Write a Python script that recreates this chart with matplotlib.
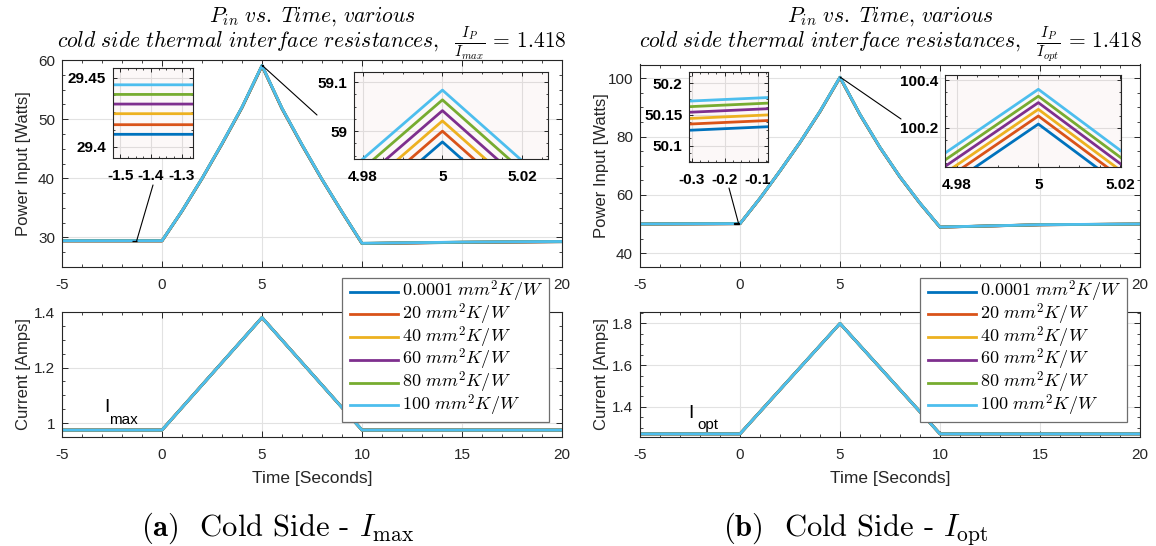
import matplotlib
matplotlib.use("Agg")
import matplotlib.pyplot as plt
from matplotlib.patches import Rectangle, ConnectionPatch
from matplotlib.ticker import AutoMinorLocator
from matplotlib.lines import Line2D

plt.rcParams['font.family'] = ['Liberation Sans', 'DejaVu Sans']
plt.rcParams['mathtext.fontset'] = 'cm'

# ---------------- data ----------------
resistances = ['0.0001', '20', '40', '60', '80', '100']
colors = ['#0072BD', '#D95319', '#EDB120', '#7E2F8E', '#77AC30', '#4DBEEE']

t_pow = [-5, 0, 1, 2, 3, 4, 5, 6, 7, 8, 9, 10, 15, 20]

# power input, I = Imax case (one list per resistance)
pow_max_0 = [29.409, 29.409, 34.44, 39.93, 45.78, 51.928, 58.978, 51.748, 45.60, 39.78, 34.28, 28.96, 29.16, 29.27]
pow_max_1 = [29.416, 29.416, 34.45, 39.94, 45.80, 51.950, 59.000, 51.770, 45.62, 39.79, 34.29, 28.97, 29.17, 29.28]
pow_max_2 = [29.424, 29.424, 34.46, 39.95, 45.82, 51.971, 59.021, 51.791, 45.64, 39.80, 34.30, 28.98, 29.18, 29.29]
pow_max_3 = [29.431, 29.431, 34.47, 39.96, 45.84, 51.992, 59.042, 51.812, 45.66, 39.81, 34.31, 28.99, 29.19, 29.30]
pow_max_4 = [29.438, 29.438, 34.48, 39.97, 45.86, 52.014, 59.064, 51.834, 45.68, 39.82, 34.32, 29.00, 29.20, 29.31]
pow_max_5 = [29.445, 29.445, 34.49, 39.98, 45.88, 52.034, 59.084, 51.854, 45.70, 39.83, 34.33, 29.01, 29.21, 29.32]

# power input, I = Iopt case
pow_opt_0 = [50.012, 50.132, 58.80, 68.20, 77.95, 88.515, 100.215, 87.465, 76.20, 66.10, 57.10, 48.95, 49.75, 50.00]
pow_opt_1 = [50.022, 50.142, 58.81, 68.21, 77.97, 88.549, 100.249, 87.499, 76.22, 66.12, 57.12, 48.96, 49.76, 50.01]
pow_opt_2 = [50.031, 50.151, 58.82, 68.22, 77.99, 88.577, 100.277, 87.527, 76.24, 66.14, 57.14, 48.97, 49.77, 50.02]
pow_opt_3 = [50.041, 50.161, 58.83, 68.23, 78.01, 88.605, 100.305, 87.555, 76.26, 66.16, 57.16, 48.98, 49.78, 50.03]
pow_opt_4 = [50.050, 50.170, 58.84, 68.24, 78.03, 88.632, 100.332, 87.582, 76.28, 66.18, 57.18, 48.99, 49.79, 50.04]
pow_opt_5 = [50.059, 50.179, 58.85, 68.25, 78.05, 88.661, 100.361, 87.611, 76.30, 66.20, 57.20, 49.00, 49.80, 50.05]

t_cur = [-5, 0, 5, 10, 20]
cur_max = [0.975, 0.975, 1.38, 0.975, 0.975]
cur_opt = [1.27, 1.27, 1.80, 1.27, 1.27]

W, H = 1156, 546
fig = plt.figure(figsize=(W / 100, H / 100), dpi=100)


def box(l, t, r, b):
    return [l / W, 1 - b / H, (r - l) / W, (b - t) / H]


def fxy(x, y):
    return (x / W, 1 - y / H)


def style_main(ax):
    ax.tick_params(which='both', direction='in', top=True, right=True,
                   labelsize=11, colors='#262626', pad=5)
    ax.tick_params(axis='x', pad=8)
    ax.tick_params(which='major', length=4, width=0.7)
    ax.tick_params(which='minor', length=2, width=0.6)
    ax.xaxis.set_minor_locator(AutoMinorLocator(5))
    ax.yaxis.set_minor_locator(AutoMinorLocator(4))
    ax.grid(True, which='major', color='#e2e2e2', lw=0.8)
    ax.set_axisbelow(True)
    for s in ax.spines.values():
        s.set_color('#262626')
        s.set_linewidth(0.8)


def style_inset(ax, xt, xl, yt, yl):
    ax.set_facecolor('#fcf8f8')
    ax.set_xticks(xt, xl)
    ax.set_yticks(yt, yl)
    ax.tick_params(which='both', direction='in', top=True, right=True,
                   labelsize=11, colors='#262626')
    ax.tick_params(axis='x', pad=8)
    ax.tick_params(axis='y', pad=5)
    ax.tick_params(which='major', length=3, width=0.7)
    ax.tick_params(which='minor', length=1.5, width=0.6)
    ax.xaxis.set_minor_locator(AutoMinorLocator(4))
    ax.yaxis.set_minor_locator(AutoMinorLocator(4))
    for lab in ax.get_xticklabels() + ax.get_yticklabels():
        lab.set_fontweight('bold')
        lab.set_color('black')
    ax.grid(True, which='major', color='#e0dcdc', lw=0.8)
    ax.set_axisbelow(True)
    for s in ax.spines.values():
        s.set_color('#262626')
        s.set_linewidth(0.8)


def panel(dx, top_y, pows, ylim_p, yt_p, ytl_p, cur, ylim_c, yt_c, ytl_c,
          sub, ins1, ins2, lbl_i, caption):
    # power axes
    axp = fig.add_axes(box(dx + 62, top_y, dx + 562, 267))
    for p, c in zip(pows, colors):
        axp.plot(t_pow, p, color=c, lw=2)
    axp.set_xlim(-5, 20)
    axp.set_ylim(*ylim_p)
    axp.set_xticks([-5, 0, 5, 10, 15, 20], ['-5', '0', '5', '10', '15', '20'])
    axp.set_yticks(yt_p, ytl_p)
    style_main(axp)
    axp.set_ylabel('Power Input [Watts]', fontsize=12, color='#262626')
    axp.yaxis.set_label_coords(-0.062, 0.5)

    # current axes
    axc = fig.add_axes(box(dx + 62, 312, dx + 562, 437))
    for c in colors:
        axc.plot(t_cur, cur, color=c, lw=2)
    axc.set_xlim(-5, 20)
    axc.set_ylim(*ylim_c)
    axc.set_xticks([-5, 0, 5, 10, 15, 20], ['-5', '0', '5', '10', '15', '20'])
    axc.set_yticks(yt_c, ytl_c)
    style_main(axc)
    axc.set_ylabel('Current [Amps]', fontsize=12, color='#262626')
    axc.yaxis.set_label_coords(-0.062, 0.5)
    axc.set_xlabel('Time [Seconds]', fontsize=12.5, color='#262626')
    axc.xaxis.label.set_va('center')
    axc.xaxis.set_label_coords(0.5, -0.33)
    axc.text(lbl_i[0], lbl_i[1], 'I', fontsize=14, color='black', ha='center', va='center')
    axc.text(lbl_i[2], lbl_i[3], sub, fontsize=11, color='black', ha='center', va='center')

    # insets with zoom marker and leader line
    for (l, t, r, b, xlim, ylim, xt, xl, yt, yl, a_xy, b_px) in (ins1, ins2):
        ax_i = fig.add_axes(box(dx + l, t, dx + r, b))
        for p, c in zip(pows, colors):
            ax_i.plot(t_pow, p, color=c, lw=2)
        ax_i.set_xlim(*xlim)
        ax_i.set_ylim(*ylim)
        style_inset(ax_i, xt, xl, yt, yl)
        axp.add_patch(Rectangle((xlim[0], ylim[0]), xlim[1] - xlim[0], ylim[1] - ylim[0],
                                fill=False, ec='black', lw=0.9, zorder=6))
        con = ConnectionPatch(xyA=a_xy, coordsA='data', axesA=axp,
                              xyB=fxy(dx + b_px[0], b_px[1]), coordsB='figure fraction',
                              color='black', lw=0.8)
        fig.add_artist(con)

    # legend drawn by hand so the row pitch matches
    lx0, ly0, lx1, ly1 = dx + 342, 278, dx + 549, 422
    fig.add_artist(Rectangle(fxy(lx0, ly1), (lx1 - lx0) / W, (ly1 - ly0) / H,
                             transform=fig.transFigure, facecolor='white',
                             edgecolor='#6e6e6e', lw=0.9, zorder=3))
    for k, (r, c) in enumerate(zip(resistances, colors)):
        yy = 291.7 + k * 22.7
        fig.add_artist(Line2D([(lx0 + 8) / W, (lx0 + 56) / W], [1 - yy / H, 1 - yy / H],
                              transform=fig.transFigure, color=c, lw=2, zorder=4))
        fig.text((lx0 + 59.5) / W, 1 - (yy + 5) / H, r'$%s\ mm^2K/W$' % r,
                 fontsize=13, ha='left', va='baseline', zorder=5)

    # titles
    cx = dx + 312
    fig.text(cx / W, 1 - 22 / H, r'$P_{in}\ vs.\ Time,\,various$',
             ha='center', va='baseline', fontsize=15.5)
    fig.text(cx / W, 1 - 47.5 / H, caption[0],
             ha='center', va='baseline', fontsize=15.5)
    fig.text((dx + 278) / W, 1 - 536 / H, caption[1], family='cmr10',
             ha='center', va='baseline', fontsize=22)


panel(0, 60,
      [pow_max_0, pow_max_1, pow_max_2, pow_max_3, pow_max_4, pow_max_5],
      (25, 60), [30, 40, 50, 60], ['30', '40', '50', '60'],
      cur_max, (0.95, 1.4), [1.0, 1.2, 1.4], ['1', '1.2', '1.4'],
      'max',
      (112.7, 68.3, 192.7, 157.7, (-1.524, -1.265), (29.392, 29.457),
       [-1.5, -1.4, -1.3], ['-1.5', '-1.4', '-1.3'], [29.4, 29.45], ['29.4', '29.45'],
       (-1.265, 29.457), (153, 185)),
      (354, 72, 548, 159, (4.9778, 5.0265), (58.943, 59.121),
       [4.98, 5.0, 5.02], ['4.98', '5', '5.02'], [59.0, 59.1], ['59', '59.1'],
       (5.0, 59.121), (317, 115)),
      (-2.75, 1.056, -1.95, 1.011),
      (r'$cold\ side\ thermal\ interface\ resistances,\ \ \frac{I_P}{I_{max}}\,=\,1.418$',
       r'$\mathbf{(a)}$  Cold Side - $I_{\mathrm{max}}$'))

panel(578, 64.5,
      [pow_opt_0, pow_opt_1, pow_opt_2, pow_opt_3, pow_opt_4, pow_opt_5],
      (35.3, 104.7), [40, 60, 80, 100], ['40', '60', '80', '100'],
      cur_opt, (1.255, 1.855), [1.4, 1.6, 1.8], ['1.4', '1.6', '1.8'],
      'opt',
      (111.3, 72.3, 190.3, 161.7, (-0.307, -0.068), (50.074, 50.218),
       [-0.3, -0.2, -0.1], ['-0.3', '-0.2', '-0.1'], [50.1, 50.15, 50.2], ['50.1', '50.15', '50.2'],
       (-0.068, 50.1), (151, 188)),
      (367, 75, 542.7, 166.7, (4.9771, 5.0202), (100.036, 100.421),
       [4.98, 5.0, 5.02], ['4.98', '5', '5.02'], [100.2, 100.4], ['100.2', '100.4'],
       (5.0, 100.421), (323, 119)),
      (-2.44, 1.37, -1.6, 1.313),
      (r'$cold\ side\ thermal\ interface\ resistances,\ \ \frac{I_P}{I_{opt}}\,=\,1.418$',
       r'$\mathbf{(b)}$  Cold Side - $I_{\mathrm{opt}}$'))

fig.savefig('out.png', dpi=100)
